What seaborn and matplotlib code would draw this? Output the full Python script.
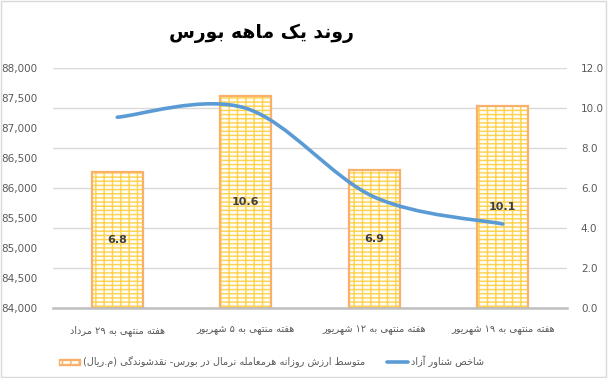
import numpy as np
import pandas as pd
import matplotlib
matplotlib.use('Agg')
import matplotlib.pyplot as plt
import seaborn as sns
from matplotlib.path import Path
from matplotlib.patches import PathPatch, Patch, Rectangle
from matplotlib.lines import Line2D
from matplotlib.ticker import FuncFormatter

# data
weeks = ['هفته منتهی به ۲۹ مرداد', 'هفته منتهی به ۵ شهریور',
         'هفته منتهی به ۱۲ شهریور', 'هفته منتهی به ۱۹ شهریور']
liquidity = [6.8, 10.6, 6.9, 10.1]          # right axis, bars
free_float_index = [87180, 87330, 85850, 85400]  # left axis, line

title = 'روند یک ماهه بورس'
bar_name = 'متوسط ارزش روزانه هرمعامله نرمال در بورس- نقدشوندگی (م.ریال)'
line_name = 'شاخص شناور آزاد'

# --- minimal arabic/persian shaping (matplotlib draws glyphs left to right, unjoined)
FORMS = {
    'ا': ('\uFE8D', '\uFE8E', None, None), 'آ': ('\uFE81', '\uFE82', None, None),
    'ب': ('\uFE8F', '\uFE90', '\uFE91', '\uFE92'), 'پ': ('\uFB56', '\uFB57', '\uFB58', '\uFB59'),
    'ت': ('\uFE95', '\uFE96', '\uFE97', '\uFE98'), 'ث': ('\uFE99', '\uFE9A', '\uFE9B', '\uFE9C'),
    'ج': ('\uFE9D', '\uFE9E', '\uFE9F', '\uFEA0'), 'چ': ('\uFB7A', '\uFB7B', '\uFB7C', '\uFB7D'),
    'ح': ('\uFEA1', '\uFEA2', '\uFEA3', '\uFEA4'), 'خ': ('\uFEA5', '\uFEA6', '\uFEA7', '\uFEA8'),
    'د': ('\uFEA9', '\uFEAA', None, None), 'ذ': ('\uFEAB', '\uFEAC', None, None),
    'ر': ('\uFEAD', '\uFEAE', None, None), 'ز': ('\uFEAF', '\uFEB0', None, None),
    'ژ': ('\uFB8A', '\uFB8B', None, None),
    'س': ('\uFEB1', '\uFEB2', '\uFEB3', '\uFEB4'), 'ش': ('\uFEB5', '\uFEB6', '\uFEB7', '\uFEB8'),
    'ص': ('\uFEB9', '\uFEBA', '\uFEBB', '\uFEBC'), 'ض': ('\uFEBD', '\uFEBE', '\uFEBF', '\uFEC0'),
    'ط': ('\uFEC1', '\uFEC2', '\uFEC3', '\uFEC4'), 'ظ': ('\uFEC5', '\uFEC6', '\uFEC7', '\uFEC8'),
    'ع': ('\uFEC9', '\uFECA', '\uFECB', '\uFECC'), 'غ': ('\uFECD', '\uFECE', '\uFECF', '\uFED0'),
    'ف': ('\uFED1', '\uFED2', '\uFED3', '\uFED4'), 'ق': ('\uFED5', '\uFED6', '\uFED7', '\uFED8'),
    'ک': ('\uFB8E', '\uFB8F', '\uFB90', '\uFB91'), 'گ': ('\uFB92', '\uFB93', '\uFB94', '\uFB95'),
    'ل': ('\uFEDD', '\uFEDE', '\uFEDF', '\uFEE0'), 'م': ('\uFEE1', '\uFEE2', '\uFEE3', '\uFEE4'),
    'ن': ('\uFEE5', '\uFEE6', '\uFEE7', '\uFEE8'), 'ه': ('\uFEE9', '\uFEEA', '\uFEEB', '\uFEEC'),
    'و': ('\uFEED', '\uFEEE', None, None), 'ی': ('\uFBFC', '\uFBFD', '\uFBFE', '\uFBFF'),
}
MIRROR = {'(': ')', ')': '('}


def rtl(s):
    out = []
    for i, c in enumerate(s):
        if c not in FORMS:
            out.append(c)
            continue
        prev = s[i - 1] if i > 0 else None
        nxt = s[i + 1] if i + 1 < len(s) else None
        jp = prev in FORMS and FORMS[prev][2] is not None
        jn = nxt in FORMS and FORMS[c][2] is not None
        iso, fin, ini, med = FORMS[c]
        out.append(med if (jp and jn) else fin if jp else ini if jn else iso)
    # reverse for display, keeping digit runs in order
    tokens = []
    for c in out:
        if c.isdigit() and tokens and tokens[-1][-1].isdigit():
            tokens[-1] += c
        else:
            tokens.append(MIRROR.get(c, c))
    return ''.join(reversed(tokens))


sns.set_style('white')
plt.rcParams['font.family'] = ['DejaVu Sans']

fig = plt.figure(figsize=(6.08, 3.78), dpi=100)
ax = fig.add_axes([53 / 608, 70 / 378, 514 / 608, 240 / 378])
ax2 = ax.twinx()

df = pd.DataFrame({'week': weeks, 'liquidity': liquidity, 'index': free_float_index})
df['pos'] = np.arange(len(df))

# bars on the right axis: yellow brick hatch + orange outline
sns.barplot(data=df, x='week', y='liquidity', ax=ax2, width=0.4, color='#FFFDF5',
            edgecolor='#FFD24D', linewidth=0, hatch='----||')
sns.barplot(data=df, x='week', y='liquidity', ax=ax2, width=0.4, fill=False,
            edgecolor='#F8B06A', linewidth=1.6)
ax2.bar_label(ax2.containers[0], labels=[f'{v:.1f}' for v in liquidity],
              label_type='center', fontsize=8, fontweight='bold', color='#404040')
ax2.set_ylim(0, 12)
ax2.set_yticks(np.arange(0, 12.1, 2))
ax2.yaxis.set_major_formatter(FuncFormatter(lambda v, p: f'{v:.1f}'))
ax2.grid(axis='y', color='#D9D9D9', linewidth=1)
ax2.set_axisbelow(True)
ax2.set_ylabel('')
ax2.set_xlabel('')

# smoothed line on the left axis (excel style bezier through the points)
pts = np.column_stack([df['pos'], df['index']]).astype(float)
verts = [tuple(pts[0])]
codes = [Path.MOVETO]
for i in range(len(pts) - 1):
    p0 = pts[max(i - 1, 0)]
    p1, p2 = pts[i], pts[i + 1]
    p3 = pts[min(i + 2, len(pts) - 1)]
    verts += [tuple(p1 + (p2 - p0) / 6), tuple(p2 - (p3 - p1) / 6), tuple(p2)]
    codes += [Path.CURVE4] * 3
ax.add_patch(PathPatch(Path(verts, codes), fill=False, edgecolor='#5B9BD5',
                       linewidth=2.6, capstyle='round', zorder=3))
ax.set_xlim(-0.5, 3.5)
ax.set_ylim(84000, 88000)
ax.set_yticks(np.arange(84000, 88001, 500))
ax.yaxis.set_major_formatter(FuncFormatter(lambda v, p: f'{int(v):,}'))
ax.set_xticks(range(len(weeks)))
ax.set_xticklabels([rtl(w) for w in weeks])
ax.set_zorder(ax2.get_zorder() + 1)
ax.patch.set_visible(False)

for a in (ax, ax2):
    for s in a.spines.values():
        s.set_visible(False)
    a.tick_params(length=0, labelsize=7.5, labelcolor='#595959')
ax.spines['bottom'].set_visible(True)
ax.spines['bottom'].set_color('#BFBFBF')
ax.spines['bottom'].set_linewidth(1.8)
ax.tick_params(axis='x', pad=12, labelsize=7)
ax.tick_params(axis='y', pad=11)
ax2.tick_params(axis='y', pad=10)

fig.text(261 / 608, 1 - 33 / 378, rtl(title), ha='center', va='center', fontsize=13.5,
         fontweight='bold', color='black')

handles = [Patch(facecolor='#FFFDF5', edgecolor='#F8B06A', hatch='----||', linewidth=1),
           Line2D([0], [0], color='#5B9BD5', linewidth=2.6)]
leg = fig.legend(handles, [rtl(bar_name), rtl(line_name)], loc='center left',
                 bbox_to_anchor=(50 / 608, 1 - 362 / 378), ncol=2, frameon=False,
                 fontsize=7, handlelength=2.2, handletextpad=0.3, columnspacing=2.2)
for t in leg.get_texts():
    t.set_color('#595959')

fig.add_artist(Rectangle((0.002, 0.003), 0.995, 0.994, transform=fig.transFigure,
                         fill=False, edgecolor='#D9D9D9', linewidth=1))

fig.savefig('out.png', dpi=100)
